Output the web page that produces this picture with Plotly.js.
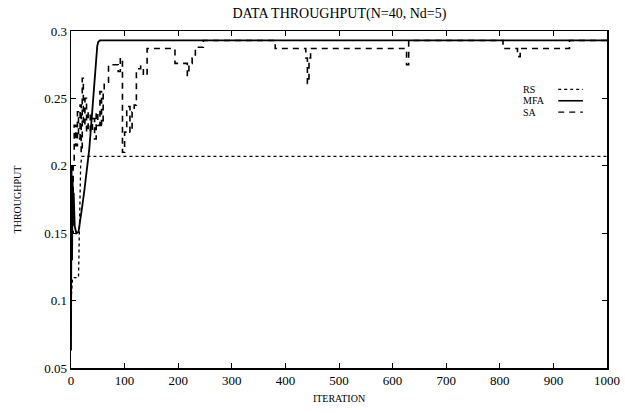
<!DOCTYPE html>
<html>
<head>
<meta charset="utf-8">
<script src="https://cdn.plot.ly/plotly-3.0.1.min.js"></script>
<style>html,body{margin:0;padding:0;background:#fff;}#chart{width:625px;height:413px;}</style>
</head>
<body>
<div id="chart"></div>
<script>
// RS (random search) series
var rsX = [0, 3, 14, 16, 18, 20, 1000];
var rsY = [0.100, 0.117, 0.117, 0.160, 0.200, 0.207, 0.207];

// MFA series
var mfaX = [0, 1, 2, 3, 4, 5, 7, 10, 14, 17, 21, 25, 30, 34, 38, 42, 45, 47, 49, 51, 54, 1000];
var mfaY = [0.063, 0.200, 0.130, 0.190, 0.160, 0.180, 0.155, 0.150, 0.151, 0.158, 0.170, 0.182, 0.198, 0.212, 0.232, 0.255, 0.272, 0.283, 0.289, 0.292, 0.293, 0.293];

// SA series
var saX = [0, 2, 4, 6, 9, 12, 14, 17, 19, 21, 23, 26, 29, 32, 36, 40, 44, 47, 50, 54, 57, 60, 62, 70, 88, 92, 96, 100, 104, 110, 114, 118, 122, 130, 135, 142, 194, 217, 220, 226, 232, 247, 381, 438, 441, 444, 447, 626, 630, 806, 833, 838, 930, 1000];
var saY = [0.200, 0.150, 0.200, 0.230, 0.215, 0.240, 0.220, 0.245, 0.210, 0.265, 0.230, 0.250, 0.225, 0.240, 0.225, 0.235, 0.220, 0.240, 0.230, 0.255, 0.230, 0.256, 0.262, 0.275, 0.270, 0.280, 0.210, 0.225, 0.244, 0.225, 0.240, 0.245, 0.272, 0.274, 0.267, 0.287, 0.276, 0.267, 0.276, 0.280, 0.288, 0.293, 0.287, 0.280, 0.261, 0.280, 0.287, 0.275, 0.293, 0.287, 0.281, 0.287, 0.293, 0.293];

var xTicks = [0, 100, 200, 300, 400, 500, 600, 700, 800, 900, 1000];
var yTicks = [0.05, 0.1, 0.15, 0.2, 0.25, 0.3];
var yTickText = ['0.05', '0.1', '0.15', '0.2', '0.25', '0.3'];
var legendNames = ['RS', 'MFA', 'SA'];

var serif = 'Liberation Serif, Times New Roman, serif';

var traces = [
  {x: rsX, y: rsY, mode: 'lines', name: legendNames[0], line: {color: '#000', width: 1.3, dash: 'dot'}},
  {x: mfaX, y: mfaY, mode: 'lines', name: legendNames[1], line: {color: '#000', width: 1.8}},
  {x: saX, y: saY, mode: 'lines', name: legendNames[2], line: {color: '#000', width: 1.6, dash: '6px,5px', shape: 'hv'}}
];

var dashes = ['dot', 'solid', '6px,5px'];
var annotations = [];
var shapes = [];
for (var i = 0; i < legendNames.length; i++) {
  var yy = 0.827 - i * 0.034;
  annotations.push({xref: 'paper', yref: 'paper', x: 0.841, y: yy, xanchor: 'left', yanchor: 'middle',
    text: legendNames[i], showarrow: false, borderpad: 0, font: {family: serif, size: 10, color: '#000'}});
  shapes.push({type: 'line', xref: 'paper', yref: 'paper', x0: 0.909, x1: 0.955, y0: yy, y1: yy,
    line: {color: '#000', width: i === 1 ? 1.6 : 1.3, dash: dashes[i]}});
}

var layout = {
  width: 625, height: 413,
  margin: {l: 71, r: 18, t: 31, b: 45},
  paper_bgcolor: '#fff', plot_bgcolor: '#fff',
  showlegend: false,
  title: {text: 'DATA THROUGHPUT(N=40, Nd=5)', font: {family: serif, size: 14, color: '#000'}, x: 0.543, xanchor: 'center', y: 0.968, yanchor: 'middle'},
  xaxis: {
    range: [0, 1000], tickvals: xTicks, ticktext: xTicks.map(String),
    ticks: 'inside', ticklen: 5, tickwidth: 1, tickcolor: '#000',
    showline: true, linecolor: '#000', linewidth: 1.5, mirror: 'ticks',
    showgrid: false, zeroline: false,
    tickfont: {family: serif, size: 13, color: '#000'},
    title: {text: 'ITERATION', font: {family: serif, size: 10, color: '#000'}, standoff: 8}
  },
  yaxis: {
    range: [0.05, 0.3], tickvals: yTicks, ticktext: yTickText,
    ticks: 'inside', ticklen: 5, tickwidth: 1, tickcolor: '#000',
    showline: true, linecolor: '#000', linewidth: 1.5, mirror: 'ticks',
    showgrid: false, zeroline: false,
    tickfont: {family: serif, size: 13, color: '#000'},
    title: {text: 'THROUGHPUT', font: {family: serif, size: 10, color: '#000'}, standoff: 20}
  },
  annotations: annotations,
  shapes: shapes
};

Plotly.newPlot('chart', traces, layout, {displayModeBar: false, staticPlot: true});
</script>
</body>
</html>
